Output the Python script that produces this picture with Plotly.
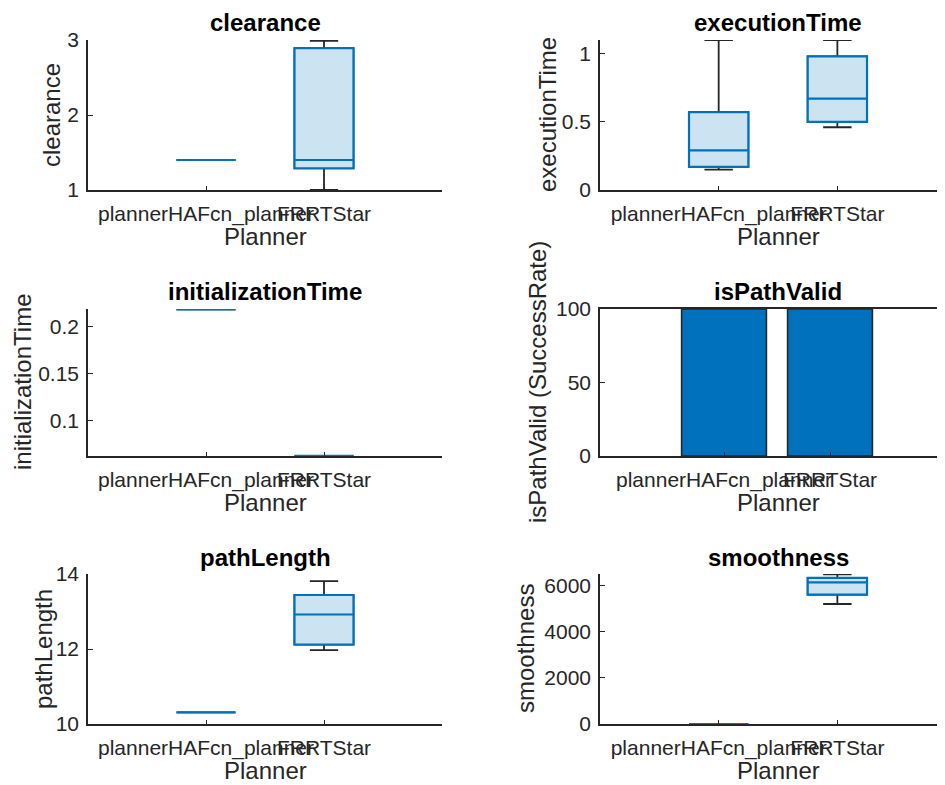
import plotly.graph_objects as go

# ---------------- data ----------------
planners = ["plannerHAFcn_planner", "FRRTStar"]

clearance_q1 = [1.40, 1.29]
clearance_med = [1.40, 1.40]
clearance_q3 = [1.40, 2.89]
clearance_lo = [1.40, 1.00]
clearance_hi = [1.40, 2.99]

exec_q1 = [0.17, 0.50]
exec_med = [0.29, 0.67]
exec_q3 = [0.57, 0.98]
exec_lo = [0.15, 0.46]
exec_hi = [1.10, 1.10]

init_q1 = [0.2182, 0.0621]
init_med = [0.2182, 0.0621]
init_q3 = [0.2182, 0.0621]
init_lo = [0.2182, 0.0621]
init_hi = [0.2182, 0.0621]

success_rate = [100, 100]

path_q1 = [10.31, 12.12]
path_med = [10.31, 12.92]
path_q3 = [10.31, 13.44]
path_lo = [10.31, 11.97]
path_hi = [10.31, 13.81]

smooth_q1 = [0, 5610]
smooth_med = [0, 6140]
smooth_q3 = [0, 6330]
smooth_lo = [0, 5200]
smooth_hi = [0, 6480]

titles = ["clearance", "executionTime", "initializationTime", "isPathValid", "pathLength", "smoothness"]
ylabels = ["clearance", "executionTime", "initializationTime", "isPathValid (SuccessRate)", "pathLength", "smoothness"]
xlabel = "Planner"

# ---------------- styling ----------------
OFF = 8  # page body margin
W, H = 945 - OFF, 785 - OFF
FONT = "Liberation Sans, Arial, Helvetica, sans-serif"
AX = "#262626"
BLUE = "#0072BD"
FILL = "#CCE3F2"

# positions measured in page pixels
col_px = [(88, 442), (600, 945)]
row_px = [(40, 190), (309, 456), (574, 724)]
col_center = [265, 778]
title_y = [22, 291, 557]
planner_y = [236, 502, 770]
ylab_x = [[51, 547], [22, 537], [43, 525]]
ylab_y = [115, 382, 649]

def px_x(p):
    return min(1.0, (p - OFF) / W)

def px_y(p):
    return 1 - (p - OFF) / H

fig = go.Figure()
layout = dict(width=W, height=H, margin=dict(l=0, r=0, t=0, b=0, autoexpand=False),
              paper_bgcolor="white", plot_bgcolor="white",
              showlegend=False, boxmode="overlay", annotations=[])

yranges = [[1, 3], [0, 1.1], [0.0619, 0.2186], [0, 100], [10, 14], [0, 6500]]
yticks = [[1, 2, 3], [0, 0.5, 1], [0.1, 0.15, 0.2], [0, 50, 100], [10, 12, 14], [0, 2000, 4000, 6000]]
yticktext = [["1", "2", "3"], ["0", "0.5", "1"], ["0.1", "0.15", "0.2"], ["0", "50", "100"],
             ["10", "12", "14"], ["0", "2000", "4000", "6000"]]

box_data = {
    0: (clearance_q1, clearance_med, clearance_q3, clearance_lo, clearance_hi),
    1: (exec_q1, exec_med, exec_q3, exec_lo, exec_hi),
    2: (init_q1, init_med, init_q3, init_lo, init_hi),
    4: (path_q1, path_med, path_q3, path_lo, path_hi),
    5: (smooth_q1, smooth_med, smooth_q3, smooth_lo, smooth_hi),
}

for i in range(6):
    r, c = divmod(i, 2)
    n = "" if i == 0 else str(i + 1)
    xa, ya = "x" + n, "y" + n
    x0, x1 = col_px[c]
    y0, y1 = row_px[r]
    if i == 3:
        xr = [-1.17, 2.085]
    else:
        xr = [-1, 2] if c == 0 else [-1, 1.907]
    layout["xaxis" + n] = dict(
        domain=[px_x(x0), px_x(x1)], anchor=ya, type="category",
        categoryorder="array", categoryarray=planners, range=xr,
        showline=True, linecolor=AX, linewidth=1.6, mirror=(i == 3),
        ticks="inside", ticklen=4, tickcolor=AX, tickangle=0,
        ticklabelstandoff=4, automargin=False,
        tickfont=dict(family=FONT, size=21, color=AX),
        showgrid=False, zeroline=False, fixedrange=True)
    layout["yaxis" + n] = dict(
        domain=[px_y(y1), px_y(y0)], anchor=xa, range=yranges[i],
        tickvals=yticks[i], ticktext=yticktext[i],
        showline=True, linecolor=AX, linewidth=1.6,
        ticks="inside", ticklen=5, tickcolor=AX,
        ticklabelstandoff=3, automargin=False,
        tickfont=dict(family=FONT, size=21, color=AX),
        showgrid=False, zeroline=False, fixedrange=True)

    if i == 3:
        fig.add_trace(go.Bar(x=planners, y=success_rate, width=0.8,
                             marker=dict(color=BLUE, line=dict(color=AX, width=1.6)),
                             xaxis=xa, yaxis=ya, hoverinfo="skip"))
    else:
        q1, med, q3, lo, hi = box_data[i]
        # whiskers (dark)
        fig.add_trace(go.Box(x=planners, q1=q1, median=med, q3=q3,
                             lowerfence=lo, upperfence=hi, width=0.5, whiskerwidth=0.48,
                             line=dict(color=AX, width=1.8), fillcolor="rgba(0,0,0,0)",
                             boxpoints=False, xaxis=xa, yaxis=ya, hoverinfo="skip"))
        # box body (blue)
        fig.add_trace(go.Box(x=planners, q1=q1, median=med, q3=q3,
                             lowerfence=q1, upperfence=q3, width=0.5, whiskerwidth=0,
                             line=dict(color=BLUE, width=2.2), fillcolor=FILL,
                             boxpoints=False, xaxis=xa, yaxis=ya, hoverinfo="skip"))

    # title
    layout["annotations"].append(dict(
        text="<b>%s</b>" % titles[i], x=px_x(col_center[c]), y=px_y(title_y[r]),
        xref="paper", yref="paper", xanchor="center", yanchor="middle",
        showarrow=False, font=dict(family=FONT, size=24, color="#000000")))
    # x label
    layout["annotations"].append(dict(
        text=xlabel, x=px_x(col_center[c]), y=px_y(planner_y[r]),
        xref="paper", yref="paper", xanchor="center", yanchor="middle",
        showarrow=False, font=dict(family=FONT, size=24, color=AX)))
    # y label
    layout["annotations"].append(dict(
        text=ylabels[i], x=px_x(ylab_x[r][c]), y=px_y(ylab_y[r]), textangle=-90,
        xref="paper", yref="paper", xanchor="center", yanchor="middle",
        showarrow=False, font=dict(family=FONT, size=24, color=AX)))

fig.update_layout(**layout)
fig.write_html("out.html")
